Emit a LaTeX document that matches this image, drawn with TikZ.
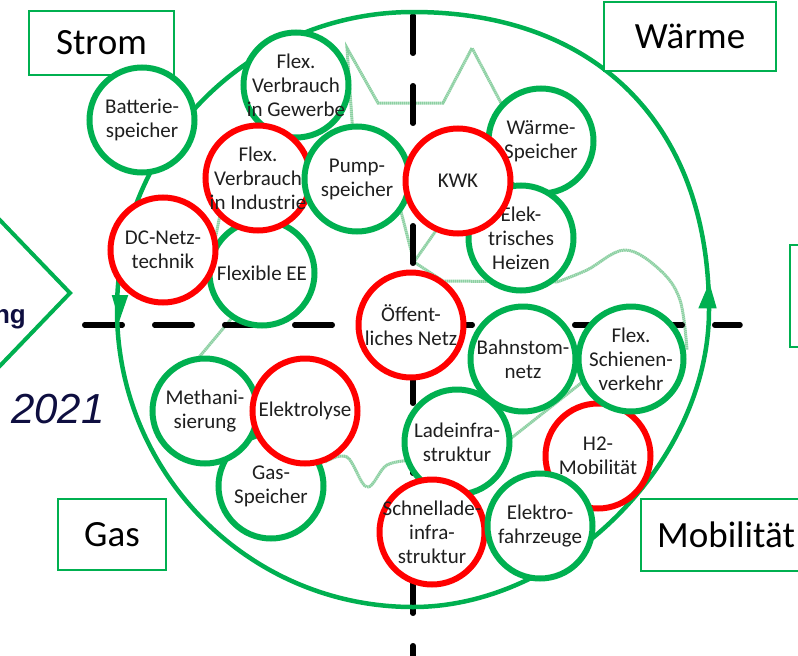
\documentclass[tikz,border=0pt]{standalone}
\usepackage{fontspec}
\setmainfont{Carlito}
\newfontfamily\arialfont{Liberation Sans}
\definecolor{sgreen}{RGB}{0,176,80}
\definecolor{sred}{RGB}{255,0,0}
\definecolor{navy}{RGB}{14,14,64}
\definecolor{faint}{RGB}{140,208,162}

\tikzset{
  bubble/.style={circle, fill=white, line width=6pt, minimum size=105pt, inner sep=0pt},
  gb/.style={bubble, draw=sgreen},
  rb/.style={bubble, draw=sred},
  bubtext/.style={align=center, font=\fontsize{21}{24}\selectfont, text=black!88, inner sep=0pt},
  sector/.style={draw=sgreen, line width=2pt, fill=white, inner sep=0pt},
  sectortext/.style={font=\fontsize{37}{40}\selectfont, text=black, inner sep=0pt},
  axis/.style={line width=5.5pt, line cap=round, dash pattern=on 37.5pt off 32.5pt},
  trace/.style={draw=faint, line width=3pt, dash pattern=on 1.5pt off 0.5pt},
  ring/.style={draw=sgreen, line width=4.5pt},
}

% circle with its label: name, style, centre, text
\newcommand{\kreis}[4]{%
  \node[#2] (#1) at (#3) {};
  \node[bubtext] (#1-t) at (#1) {#4};}

\begin{document}
\begin{tikzpicture}[x=1pt, y=-1pt]
\useasboundingbox (0,0) rectangle (798,656);
\clip (0,0) rectangle (798,656);

% faint background trace
\draw[trace] (353,135) -- (347,48) -- (378,103) -- (443,103) -- (472,48) -- (510,120);
\draw[trace] (398,200) -- (414,262) -- (442,222);
\draw[trace] (414,262) -- (443,281) -- (557,282);
\draw[trace] plot[smooth, tension=0.6] coordinates {(557,282) (587,270) (625,250) (660,270) (680,300) (687,350)};
\draw[trace] (222,205) -- (212,255);
\draw[trace] (237,312) -- (195,362);
\draw[trace] plot[smooth, tension=0.6] coordinates {(325,462) (347,457) (367,487) (387,465) (415,460)};
\draw[trace] (505,443) -- (585,380);

% dashed axes
\draw[axis] (84.75,325) -- (740,325);
\draw[axis] (413,15.75) -- (413,680);

% outer ring
\draw[ring] (413,12) .. controls (596.5,12) and (709,125) .. (709,310)
  .. controls (709,461.5) and (564,607) .. (413,607)
  .. controls (249.5,607) and (117,474) .. (117,310)
  .. controls (117,145.4) and (249.5,12) .. (413,12) -- cycle;

% sector boxes
\node[sector, minimum width=145pt, minimum height=64pt] (strom) at (101.5,43) {};
\node[sectortext] (strom-t) at (strom) {Strom};
\node[sector, minimum width=172pt, minimum height=69pt] (waerme) at (690,36) {};
\node[sectortext] (waerme-t) at (waerme) {Wärme};
\node[sector, minimum width=108pt, minimum height=71pt] (gasbox) at (112,534.5) {};
\node[sectortext] (gasbox-t) at (gasbox) {Gas};
\node[sector, minimum width=178pt, minimum height=72pt] (mob) at (730,535) {};
\node[sectortext, anchor=west] (mob-t) at (657,535) {Mobilität};
\node[sector, minimum width=40pt, minimum height=102pt] (rbox) at (810,296) {};

% chevron on the left
\draw[sgreen, line width=4pt] (-5,215) -- (70,293) -- (-5,371);
\node[anchor=base east, font=\arialfont\bfseries\fontsize{26}{26}\selectfont, text=navy, inner sep=0pt] (ng) at (26,323) {ng};
\node[anchor=base west, font=\arialfont\itshape\fontsize{42}{42}\selectfont, text=navy, inner sep=0pt] (year) at (11,423) {2021};

% Strom
\kreis{gewerbe}{gb}{296,85}{Flex.\\Verbrauch\\in Gewerbe}
\kreis{batterie}{gb}{142,120}{Batterie-\\speicher}
\kreis{flexee}{gb}{262,273}{Flexible EE}
\kreis{industrie}{rb}{258,178}{Flex.\\Verbrauch\\in Industrie}
\kreis{dcnetz}{rb}{163,250}{DC-Netz-\\technik}
\kreis{pump}{gb}{357,179}{Pump-\\speicher}
% Wärme
\kreis{wspeicher}{gb}{541,141}{Wärme-\\Speicher}
\kreis{heizen}{gb}{521,238}{Elek-\\trisches\\Heizen}
\kreis{kwk}{rb}{458,181}{KWK}
% Mobilität
\kreis{netz}{rb}{411,325}{Öffent-\\liches Netz}
\kreis{bahn}{gb}{523,359}{Bahnstom-\\netz}
\kreis{htwo}{rb}{598,456}{H2-\\Mobilität}
\kreis{schiene}{gb}{631,359}{Flex.\\Schienen-\\verkehr}
\kreis{lade}{gb}{457,442}{Ladeinfra-\\struktur}
\kreis{schnell}{rb}{432,532}{Schnellade-\\infra-\\struktur}
\kreis{efz}{gb}{540,526}{Elektro-\\fahrzeuge}
% Gas
\kreis{gas}{gb}{271,486}{Gas-\\Speicher}
\kreis{methan}{gb}{205,411}{Methani-\\sierung}
\kreis{elyse}{rb}{305,411}{Elektrolyse}

% direction marks on the ring
\fill[sgreen] (111.7,295) -- (128.3,295) -- (119.3,321) -- cycle;
\fill[sgreen] (698.3,308.3) -- (716.7,308.3) -- (709.3,282.5) -- cycle;
\end{tikzpicture}
\end{document}
